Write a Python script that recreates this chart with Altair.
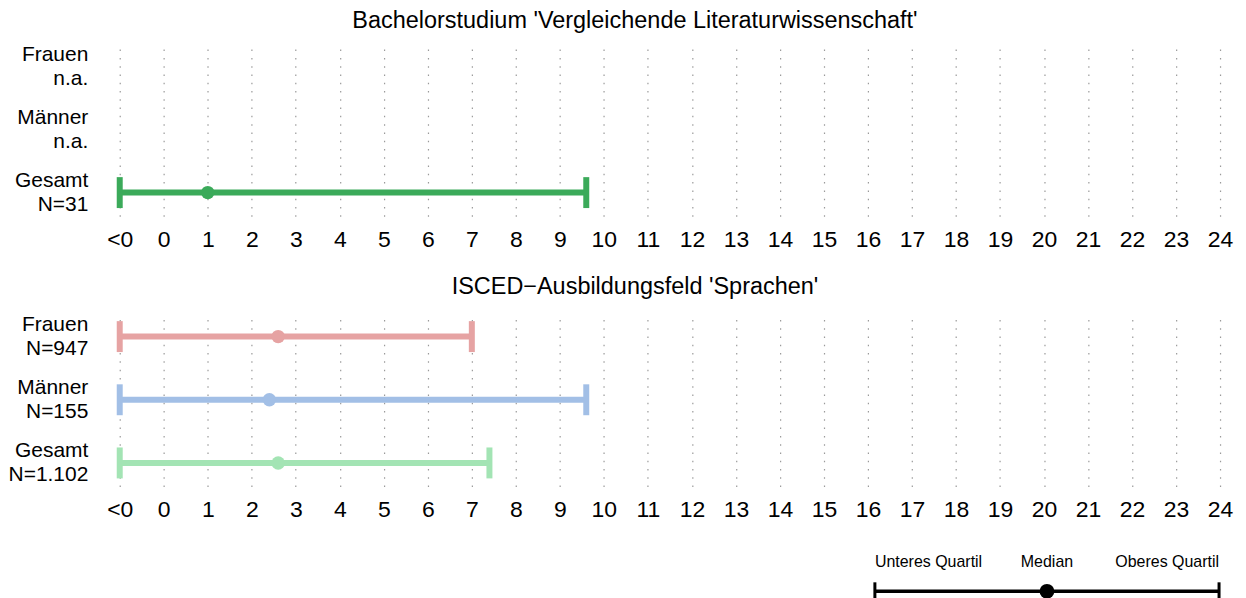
import altair as alt
import pandas as pd

FONT = "Liberation Sans"

# x axis ticks (-1 is shown as "<0")
x_ticks = list(range(-1, 25))

# Panel 1
top_title = "Bachelorstudium 'Vergleichende Literaturwissenschaft'"
top_rows = ["Frauen\nn.a.", "Männer\nn.a.", "Gesamt\nN=31"]
top_keys = ["t_frauen", "t_maenner", "t_gesamt"]
top_q1 = [None, None, -1.0]
top_median = [None, None, 1.0]
top_q3 = [None, None, 9.6]
top_colors = ["#E6A3A3", "#A2BFE6", "#3BAA5A"]

# Panel 2
bottom_title = "ISCED\u2212Ausbildungsfeld 'Sprachen'"
bottom_rows = ["Frauen\nN=947", "Männer\nN=155", "Gesamt\nN=1.102"]
bottom_keys = ["b_frauen", "b_maenner", "b_gesamt"]
bottom_q1 = [-1.0, -1.0, -1.0]
bottom_median = [2.6, 2.4, 2.6]
bottom_q3 = [7.0, 9.6, 7.4]
bottom_colors = ["#E6A3A3", "#A2BFE6", "#A3E4B4"]

# Legend
legend_labels = ["Unteres Quartil", "Median", "Oberes Quartil"]
legend_values = [0.0, 0.5, 1.0]

W = 1103
H = 174

all_keys = top_keys + bottom_keys
all_colors = top_colors + bottom_colors
color_scale = alt.Scale(domain=all_keys, range=all_colors)


def panel(title, rows, keys, q1, med, q3, title_offset):
    df = pd.DataFrame({"row": rows, "key": keys, "q1": q1, "median": med, "q3": q3}).dropna()
    xscale = alt.Scale(domain=[-1, 24], nice=False, zero=False)
    yscale = alt.Scale(type="point", domain=rows, padding=0.374)
    y = alt.Y(
        "row:N",
        scale=yscale,
        axis=alt.Axis(
            title=None,
            labelExpr="split(datum.label, '\\n')",
            labelAlign="right",
            labelBaseline="middle",
            labelFontSize=21,
            labelLineHeight=24,
            labelOffset=-12,
            labelPadding=32,
            labelFont=FONT,
            labelColor="black",
            ticks=False,
            domain=False,
            grid=False,
            minExtent=112,
            maxExtent=112,
        ),
    )
    x = alt.X(
        "q1:Q",
        scale=xscale,
        axis=alt.Axis(
            title=None,
            values=x_ticks,
            labelExpr="datum.value < 0 ? '<0' : datum.label",
            grid=True,
            gridDash=[1.5, 6.8],
            gridColor="#9a9a9a",
            gridWidth=1.2,
            ticks=False,
            tickSize=0,
            domain=False,
            labelFontSize=23,
            labelFont=FONT,
            labelPadding=12,
            labelColor="black",
            labelFlush=False,
            labelOverlap=False,
        ),
    )
    color = alt.Color("key:N", scale=color_scale, legend=None)
    base = alt.Chart(df)
    line = base.mark_rule(strokeWidth=6).encode(x=x, x2="q3:Q", y=y, color=color)
    cap_lo = base.mark_tick(thickness=6, size=31, opacity=1).encode(
        x=alt.X("q1:Q", scale=xscale), y=alt.Y("row:N", scale=yscale), color=color
    )
    cap_hi = base.mark_tick(thickness=6, size=31, opacity=1).encode(
        x=alt.X("q3:Q", scale=xscale), y=alt.Y("row:N", scale=yscale), color=color
    )
    dot = base.mark_circle(size=180, opacity=1).encode(
        x=alt.X("median:Q", scale=xscale), y=alt.Y("row:N", scale=yscale), color=color
    )
    return alt.layer(line, cap_lo, cap_hi, dot).properties(
        width=W,
        height=H,
        title=alt.TitleParams(
            title,
            fontSize=23.5,
            font=FONT,
            fontWeight="normal",
            anchor="middle",
            frame="group",
            dx=-35,
            baseline="alphabetic",
            offset=title_offset,
            color="black",
        ),
    )


p1 = panel(top_title, top_rows, top_keys, top_q1, top_median, top_q3, -8.5)
p2 = panel(bottom_title, bottom_rows, bottom_keys, bottom_q1, bottom_median, bottom_q3, -4)

# Legend chart
leg_df = pd.DataFrame({"label": legend_labels, "pos": legend_values, "row": ["L"] * len(legend_labels)})
leg_line_df = pd.DataFrame({"start": [min(legend_values)], "end": [max(legend_values)], "row": ["L"]})
lx = alt.Scale(domain=[0, 1], range=[757, W - 1])
ly_scale = alt.Scale(type="point", domain=["L"], padding=0.5)
ly = alt.Y(
    "row:N",
    scale=ly_scale,
    axis=alt.Axis(title=None, labels=False, ticks=False, domain=False, grid=False, minExtent=112, maxExtent=112),
)
leg_base = alt.Chart(leg_df)
leg_rule = alt.Chart(leg_line_df).mark_rule(strokeWidth=3.5, color="black").encode(
    x=alt.X("start:Q", scale=lx, axis=None), x2="end:Q", y=ly
)
leg_caps = leg_base.mark_tick(thickness=3, size=18, color="black", opacity=1).transform_filter(
    "datum.label != 'Median'"
).encode(x=alt.X("pos:Q", scale=lx, axis=None), y=alt.Y("row:N", scale=ly_scale))
leg_dot = leg_base.mark_circle(size=220, color="black", opacity=1).transform_filter(
    "datum.label == 'Median'"
).encode(x=alt.X("pos:Q", scale=lx, axis=None), y=alt.Y("row:N", scale=ly_scale))
aligns = ["left", "center", "right"]
leg_texts = [
    leg_base.mark_text(align=a, baseline="middle", dy=-29, fontSize=16, font=FONT, color="black")
    .transform_filter(alt.datum.label == lab)
    .encode(x=alt.X("pos:Q", scale=lx, axis=None), y=alt.Y("row:N", scale=ly_scale), text="label:N")
    for lab, a in zip(legend_labels, aligns)
]
legend = alt.layer(leg_rule, leg_caps, leg_dot, *leg_texts).properties(width=W, height=20)

chart = (
    alt.vconcat(alt.vconcat(p1, p2, spacing=23), legend, spacing=33)
    .properties(padding={"left": 0, "top": 0, "right": 5, "bottom": 0}, background="white")
    .configure(font=FONT, view=alt.ViewConfig(stroke=None))
)

chart.save("out.html", embed_options={"renderer": "svg", "actions": False})
